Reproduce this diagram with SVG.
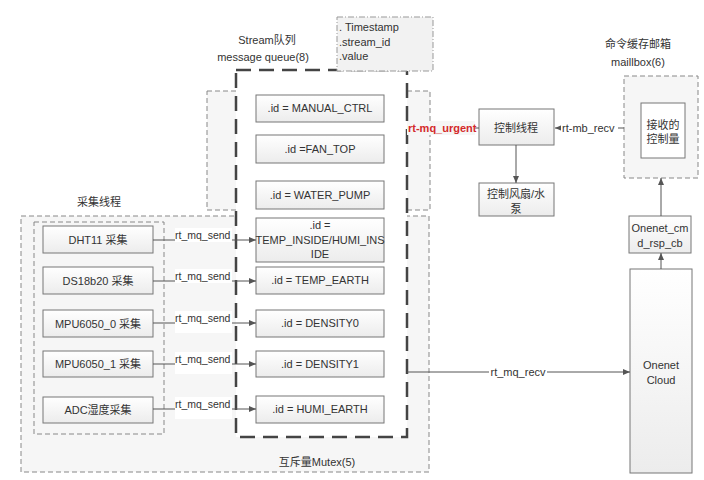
<svg xmlns="http://www.w3.org/2000/svg" width="704" height="480" viewBox="0 0 704 480">
<style>
text{font-family:"Liberation Sans","Noto Sans CJK SC",sans-serif;fill:#333;font-size:11px}
.c{text-anchor:middle}
.grp{fill:#f6f6f6;stroke:#888;stroke-width:1;stroke-dasharray:5,3}
.node{fill:url(#g);stroke:#777;stroke-width:1}
.heavy{fill:#fff;stroke:#444;stroke-width:2.5;stroke-dasharray:15,8}
.ln{stroke:#555;stroke-width:1;fill:none}
.arr{marker-end:url(#ah)}
.lbl{fill:#fff}
.snd{font-size:10.5px}
.red{fill:#d42a2a;font-weight:bold}
</style>
<defs>
<linearGradient id="g" x1="0" y1="0" x2="0" y2="1"><stop offset="0" stop-color="#ffffff"/><stop offset="1" stop-color="#ececec"/></linearGradient>
<marker id="ah" markerWidth="7" markerHeight="6" refX="7" refY="3" orient="auto" markerUnits="userSpaceOnUse"><path d="M0,0 L7,3 L0,6 z" fill="#555"/></marker>
</defs>
<rect width="704" height="480" fill="#fff"/>
<g id="mutex">
<rect class="grp" x="21" y="216" width="408" height="256"/>
<text class="c" x="317" y="466" font-size="13">互斥量Mutex(5)</text>
</g>
<g id="control-area">
<rect class="grp" x="207" y="91" width="223" height="119"/>
</g>
<g id="acq-group">
<rect class="grp" x="34" y="222" width="130" height="212"/>
<text class="c" x="99" y="206" font-size="12">采集线程</text>
</g>
<g id="stream-queue">
<rect class="heavy" x="236" y="70" width="171" height="367"/>
<text class="c" x="267" y="44" font-size="12">Stream队列</text>
<text class="c" x="263" y="61" font-size="12">message queue(8)</text>
</g>
<g id="info">
<rect x="337" y="17" width="96" height="54" fill="#f2f2f2" stroke="#999" stroke-dasharray="6,2,1,2"/>
<text x="339" y="31">. Timestamp</text>
<text x="339" y="46">.stream_id</text>
<text x="339" y="60">.value</text>
</g>
<g id="id-manual"><rect class="node" x="256" y="95" width="128" height="27"/><text class="c" x="320" y="112">.id = MANUAL_CTRL</text></g>
<g id="id-fan"><rect class="node" x="256" y="135" width="128" height="28"/><text class="c" x="320" y="153">.id =FAN_TOP</text></g>
<g id="id-pump"><rect class="node" x="256" y="181" width="128" height="28"/><text class="c" x="320" y="199">.id = WATER_PUMP</text></g>
<g id="id-inside"><rect class="node" x="256" y="218" width="128" height="44"/><text class="c" x="320" y="229">.id =</text><text class="c" x="320" y="244" font-size="10px">TEMP_INSIDE/HUMI_INS</text><text class="c" x="320" y="258">IDE</text></g>
<g id="id-temp-earth"><rect class="node" x="256" y="267" width="128" height="27"/><text class="c" x="320" y="284">.id = TEMP_EARTH</text></g>
<g id="id-density0"><rect class="node" x="256" y="310" width="128" height="27"/><text class="c" x="320" y="327">.id = DENSITY0</text></g>
<g id="id-density1"><rect class="node" x="256" y="351" width="128" height="26"/><text class="c" x="320" y="368">.id = DENSITY1</text></g>
<g id="id-humi-earth"><rect class="node" x="256" y="396" width="128" height="27"/><text class="c" x="320" y="413">.id = HUMI_EARTH</text></g>
<g id="dht11"><rect class="node" x="43" y="226" width="110" height="27"/><text class="c" x="98" y="244">DHT11 采集</text></g>
<g id="ds18b20"><rect class="node" x="43" y="267" width="110" height="27"/><text class="c" x="98" y="285">DS18b20 采集</text></g>
<g id="mpu0"><rect class="node" x="43" y="310" width="110" height="27"/><text class="c" x="98" y="328">MPU6050_0 采集</text></g>
<g id="mpu1"><rect class="node" x="43" y="351" width="110" height="26"/><text class="c" x="98" y="368">MPU6050_1 采集</text></g>
<g id="adc"><rect class="node" x="43" y="397" width="110" height="26"/><text class="c" x="98" y="414">ADC湿度采集</text></g>
<g id="ctrl-thread"><rect class="node" x="479" y="109" width="75" height="36"/><text class="c" x="516" y="132" font-size="12">控制线程</text></g>
<g id="ctrl-fan"><rect class="node" x="479" y="183" width="75" height="33"/><text class="c" x="516" y="198" font-size="12">控制风扇/水</text><text class="c" x="516" y="213" font-size="12">泵</text></g>
<g id="mailbox">
<rect class="grp" x="624" y="76" width="74" height="102"/>
<text class="c" x="638" y="48" font-size="12">命令缓存邮箱</text>
<text class="c" x="638" y="66" font-size="12">maillbox(6)</text>
<rect x="641" y="103" width="44" height="55" fill="#fff" stroke="#777"/>
<text class="c" x="663" y="129">接收的</text>
<text class="c" x="663" y="143">控制量</text>
</g>
<g id="cmd-rsp"><rect class="node" x="629" y="216" width="62" height="37"/><text class="c" x="660" y="232">Onenet_cm</text><text class="c" x="660" y="247">d_rsp_cb</text></g>
<g id="cloud"><rect class="node" x="630" y="269" width="62" height="204"/><text class="c" x="661" y="369">Onenet</text><text class="c" x="661" y="384">Cloud</text></g>
<g id="connectors">
<path class="ln arr" d="M153,240 H256"/>
<path class="ln arr" d="M153,281 H256"/>
<path class="ln arr" d="M153,323 H256"/>
<path class="ln arr" d="M153,364 H256"/>
<path class="ln arr" d="M153,409 H256"/>
<g>
<rect class="lbl" x="175" y="228" width="57" height="14"/><text class="snd" x="175" y="239">rt_mq_send</text>
<rect class="lbl" x="175" y="269" width="57" height="14"/><text class="snd" x="175" y="280">rt_mq_send</text>
<rect class="lbl" x="175" y="311" width="57" height="22"/><text class="snd" x="175" y="322">rt_mq_send</text>
<rect class="lbl" x="175" y="352" width="57" height="22"/><text class="snd" x="175" y="363">rt_mq_send</text>
<rect class="lbl" x="175" y="397" width="57" height="22"/><text class="snd" x="175" y="408">rt_mq_send</text>
</g>
<path class="ln arr" d="M407,372 H630"/>
<rect class="lbl" x="489" y="365" width="58" height="14"/><text class="c" x="518" y="376">rt_mq_recv</text>
<path class="ln" d="M407,128 H479"/>
<rect x="407" y="121" width="68" height="14" fill="#f6f6f6"/><text class="red" x="408" y="132">rt-mq_urgent</text>
<path class="ln arr" d="M516,145 V183"/>
<path class="ln arr" d="M624,128 H555"/>
<rect class="lbl" x="561" y="121" width="57" height="14"/><text x="562" y="132">rt-mb_recv</text>
<path class="ln arr" d="M661,269 V253"/>
<path class="ln arr" d="M661,216 V178"/>
</g>
</svg>
